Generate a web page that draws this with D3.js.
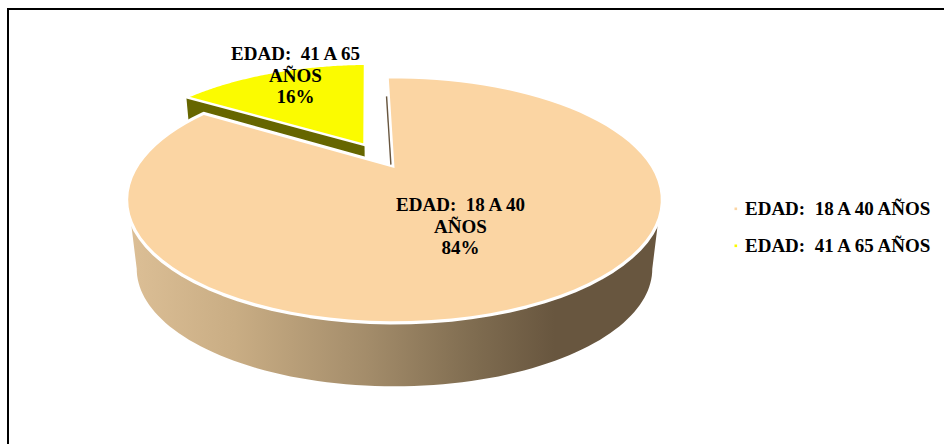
<!DOCTYPE html>
<html>
<head>
<meta charset="utf-8">
<script src="https://cdn.jsdelivr.net/npm/d3@7"></script>
<style>
html,body{margin:0;padding:0;background:#fff;overflow:hidden}
text{font-family:"Liberation Serif",serif;font-weight:bold;fill:#000;white-space:pre}
</style>
</head>
<body>
<script>
const categories = ["EDAD:  18 A 40 AÑOS", "EDAD:  41 A 65 AÑOS"];
const values = [84.4, 15.6];
const sliceColors = ["#FBD5A3", "#FBFB00"];
const sideColors = ["#68563F", "#666600"];
const labelLines = [["EDAD:  18 A 40", "AÑOS"], ["EDAD:  41 A 65", "AÑOS"]];

const W = 944, H = 444, rad = Math.PI / 180;
const svg = d3.select("body").append("svg").attr("width", W).attr("height", H).style("display", "block");

// perspective projection of the unit pie disc onto the screen
const view = {x: 394.5, y: 168, kx: 257, ky: 113.1, p: 0.262};
const depth = {dy: 70, scale: 0.968};
function project(u, v, lower) {
  const w = 1 - view.p * v;
  const s = lower ? depth.scale : 1;
  return [view.x + s * view.kx * u / w, view.y + (lower ? depth.dy : 0) + s * view.ky * v / w];
}
const rimPoint = (a, o, lower) => project(o[0] + Math.sin(a), o[1] - Math.cos(a), lower);
const sweep = (a0, a1, n = 90) => d3.range(n + 1).map(i => a0 + (a1 - a0) * i / n);
const line = d3.line();

const pie = d3.pie().sort(null).startAngle(-1.6 * rad).endAngle(358.4 * rad);
const arcs = pie(values);
const explode = 0.249;
const offsets = arcs.map((d, i) => {
  if (i === 0) return [0, 0];
  const m = (d.startAngle + d.endAngle) / 2;
  return [explode * Math.sin(m), -explode * Math.cos(m)];
});

const defs = svg.append("defs");
const grad = defs.append("linearGradient").attr("id", "wall").attr("gradientUnits", "userSpaceOnUse")
  .attr("x1", 128).attr("x2", 661).attr("y1", 0).attr("y2", 0);
[[0, "#DCBF96"], [0.2, "#C9AD84"], [0.45, "#A38C6A"], [0.65, "#7F6C50"], [0.8, "#68563F"], [1, "#68563F"]]
  .forEach(s => grad.append("stop").attr("offset", s[0]).attr("stop-color", s[1]));

// frame
svg.append("rect").attr("x", 8).attr("y", 9).attr("width", 1000).attr("height", 1000)
  .attr("fill", "none").attr("stroke", "#000").attr("stroke-width", 2);

// outer wall of the large slice
const tangent = Math.acos(-view.p);
const wallAngles = sweep(tangent, 2 * Math.PI - tangent);
const wall = wallAngles.map(a => rimPoint(a, offsets[0], false))
  .concat(wallAngles.slice().reverse().map(a => rimPoint(a, offsets[0], true)));
svg.append("path").attr("d", line(wall) + "Z").attr("fill", "url(#wall)");

// cut face of the exploded slice, hidden in part by the large slice
const y0 = arcs[1];
const cutFace = [
  rimPoint(y0.startAngle, offsets[1], false),
  project(offsets[1][0], offsets[1][1], false),
  project(offsets[1][0], offsets[1][1], true),
  rimPoint(y0.startAngle, offsets[1], true)
];
svg.append("path").attr("d", line(cutFace) + "Z").attr("fill", sideColors[1]);

function topPath(d, o) {
  const pts = sweep(d.startAngle, d.endAngle).map(a => rimPoint(a, o, false));
  pts.push(project(o[0], o[1], false));
  return line(pts) + "Z";
}
// exploded slice: outline over the fill
svg.append("path").attr("d", topPath(arcs[1], offsets[1]))
  .attr("fill", sliceColors[1]).attr("stroke", "#fff").attr("stroke-width", 2.5).attr("stroke-linejoin", "miter");

// large slice: white outline sits outside the fill
const mainTop = topPath(arcs[0], offsets[0]);
svg.append("path").attr("d", mainTop).attr("fill", "#fff").attr("stroke", "#fff")
  .attr("stroke-width", 6.4).attr("stroke-linejoin", "round");
svg.append("path").attr("d", mainTop).attr("fill", sliceColors[0]);

// thin cut face beside the first edge of the large slice
const startEdge = t => {
  const p = [t * Math.sin(arcs[0].startAngle), -t * Math.cos(arcs[0].startAngle)];
  return project(p[0], p[1], false);
};
const sliver = [0.03, 0.76].map(t => { const q = startEdge(t); return [q[0] - 3.4, q[1]]; });
svg.append("path").attr("d", line(sliver)).attr("stroke", sideColors[0]).attr("stroke-width", 1.4).attr("fill", "none");

// data labels
const pct = d3.format(".0f");
const labelPos = [[460.5, 211], [295.5, 60]];
arcs.forEach((d, i) => {
  const lines = labelLines[i].concat(pct(values[i]) + "%");
  const t = svg.append("text").attr("text-anchor", "middle").attr("font-size", 19).attr("xml:space", "preserve");
  lines.forEach((s, j) => t.append("tspan").attr("x", labelPos[i][0]).attr("y", labelPos[i][1] + j * 21.5).text(s));
});

// legend
const legendY = d3.scalePoint().domain(categories).range([209, 246]);
const legend = svg.append("g").selectAll("g").data(categories).join("g")
  .attr("transform", d => `translate(0,${legendY(d)})`);
legend.append("rect").attr("x", 734.5).attr("y", -1.5).attr("width", 2.6).attr("height", 2.6)
  .attr("fill", (d, i) => sliceColors[i]);
legend.append("text").attr("x", 745).attr("y", 5.5).attr("font-size", 19).attr("xml:space", "preserve").text(d => d);
</script>
</body>
</html>
